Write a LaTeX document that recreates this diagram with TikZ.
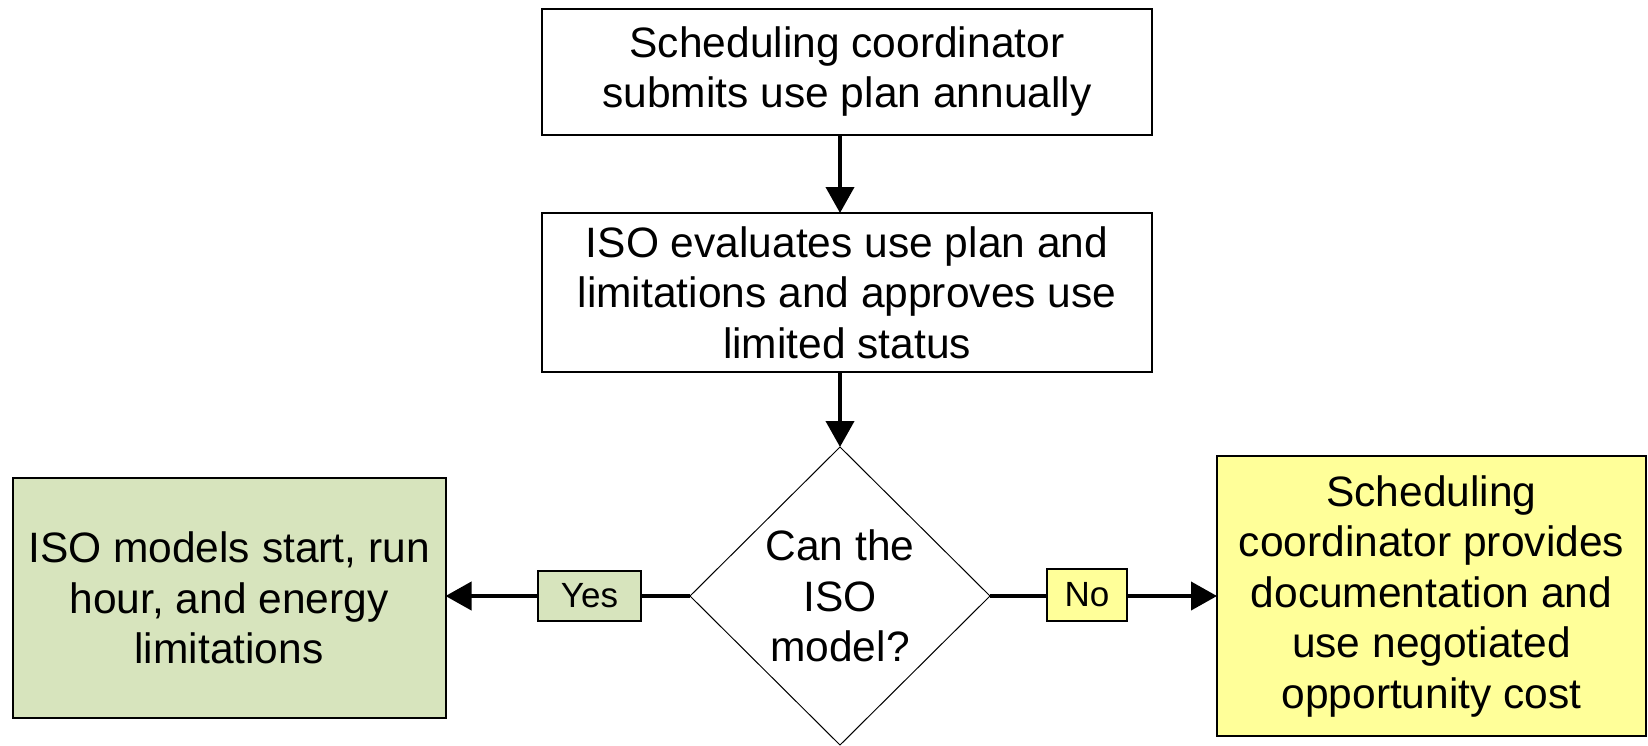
\documentclass[tikz,border=0pt]{standalone}
\usepackage{fontspec}
\setmainfont{Liberation Sans}
\usetikzlibrary{shapes.geometric,arrows.meta}
\definecolor{boxgreen}{HTML}{D7E4BD}
\definecolor{boxyellow}{HTML}{FFFF99}
\tikzset{
  procbox/.style={draw=black, line width=2pt, fill=white, align=center, inner sep=0pt, outer sep=0pt,
    font=\fontsize{42.5}{50.5}\selectfont},
  lbl/.style={draw=black, line width=2pt, inner sep=0pt, outer sep=0pt, font=\fontsize{35}{40}\selectfont},
  flow/.style={line width=4pt, -{Triangle[length=26pt,width=28pt]}},
  plain/.style={line width=4pt}
}
\begin{document}
\begin{tikzpicture}[x=1pt,y=-1pt]
\useasboundingbox (0,0) rectangle (1648,745);
\node[procbox, minimum width=610pt, minimum height=126pt] (b1) at (847,71.5)
  {Scheduling coordinator\\submits use plan annually};
\node[procbox, minimum width=610pt, minimum height=159pt] (b2) at (847,292.5)
  {ISO evaluates use plan and\\limitations and approves use\\limited status};
\node[draw=black, line width=1pt, shape=diamond, minimum width=300pt, minimum height=298pt,
  inner sep=0pt, outer sep=0pt, align=center, font=\fontsize{42.5}{50.5}\selectfont] (dia) at (840,596)
  {Can the\\ISO\\model?};
\node[procbox, fill=boxgreen, minimum width=433pt, minimum height=240pt] (lb) at (229,598)
  {ISO models start, run\\hour, and energy\\limitations};
\node[procbox, fill=boxyellow, minimum width=429pt, minimum height=280pt] (rb) at (1431.5,596)
  {Scheduling\\coordinator provides\\documentation and\\use negotiated\\opportunity cost};
\coordinate (a1s) at (b1.south -| dia.north);
\coordinate (a2s) at (b2.south -| dia.north);
\draw[flow] (a1s) -- (b2.north -| dia.north);
\draw[flow] (a2s) -- (dia.north);
\coordinate (lbe) at (lb.east |- dia.west);
\coordinate (rbw) at (rb.west |- dia.east);
\draw[flow] (dia.west) -- (lbe);
\draw[flow] (dia.east) -- (rbw);
\node[lbl, fill=boxgreen, minimum width=103pt, minimum height=50pt] (yes) at (589.5,596) {Yes};
\node[lbl, fill=boxyellow, minimum width=80pt, minimum height=52pt] (no) at (1087,595) {No};
\end{tikzpicture}
\end{document}
